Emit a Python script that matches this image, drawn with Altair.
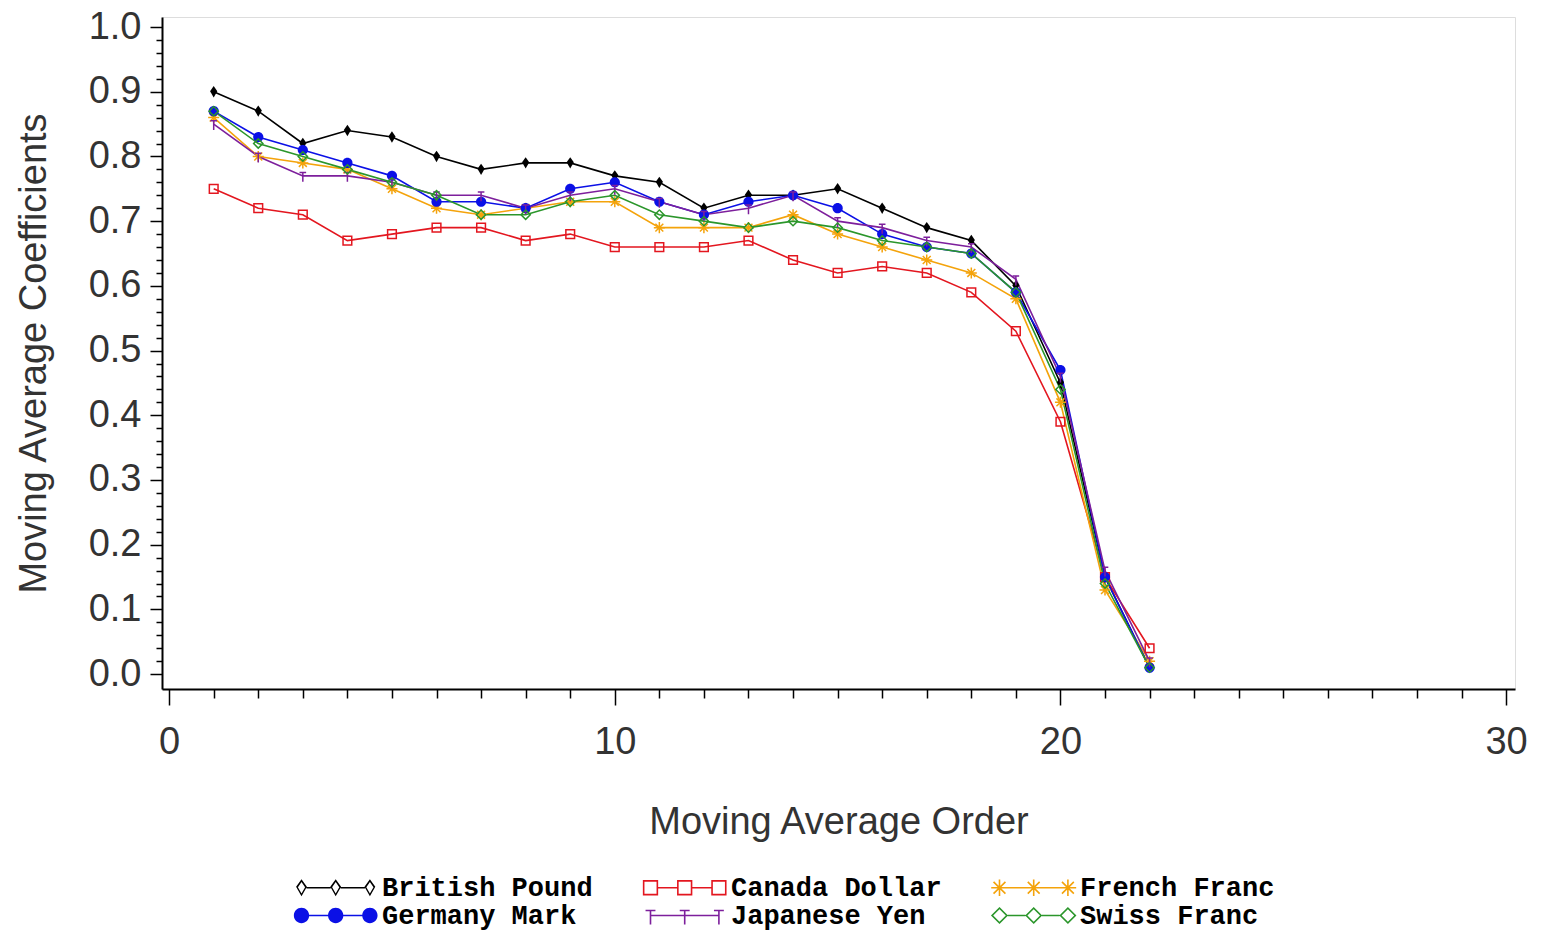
import math
import altair as alt
import pandas as pd

# ---------------- data ----------------
orders = list(range(1, 23))
series_names = ["British Pound", "Canada Dollar", "French Franc",
                "Germany Mark", "Japanese Yen", "Swiss Franc"]

british_pound = [0.90, 0.87, 0.82, 0.84, 0.83, 0.80, 0.78, 0.79, 0.79, 0.77, 0.76,
                 0.72, 0.74, 0.74, 0.75, 0.72, 0.69, 0.67, 0.60, 0.45, 0.15, 0.01]
canada_dollar = [0.75, 0.72, 0.71, 0.67, 0.68, 0.69, 0.69, 0.67, 0.68, 0.66, 0.66,
                 0.66, 0.67, 0.64, 0.62, 0.63, 0.62, 0.59, 0.53, 0.39, 0.15, 0.04]
french_franc = [0.86, 0.80, 0.79, 0.78, 0.75, 0.72, 0.71, 0.72, 0.73, 0.73, 0.69,
                0.69, 0.69, 0.71, 0.68, 0.66, 0.64, 0.62, 0.58, 0.42, 0.13, 0.02]
germany_mark = [0.87, 0.83, 0.81, 0.79, 0.77, 0.73, 0.73, 0.72, 0.75, 0.76, 0.73,
                0.71, 0.73, 0.74, 0.72, 0.68, 0.66, 0.65, 0.59, 0.47, 0.15, 0.01]
japanese_yen = [0.85, 0.80, 0.77, 0.77, 0.76, 0.74, 0.74, 0.72, 0.74, 0.75, 0.73,
                0.71, 0.72, 0.74, 0.70, 0.69, 0.67, 0.66, 0.61, 0.46, 0.16, 0.02]
swiss_franc = [0.87, 0.82, 0.80, 0.78, 0.76, 0.74, 0.71, 0.71, 0.73, 0.74, 0.71,
               0.70, 0.69, 0.70, 0.69, 0.67, 0.66, 0.65, 0.59, 0.44, 0.14, 0.01]

series_values = [british_pound, canada_dollar, french_franc,
                 germany_mark, japanese_yen, swiss_franc]

series_colors = ["#000000", "#E3161F", "#F4A30B", "#0B10E6", "#7D1F9C", "#2B962B"]
series_markers = ["heart", "square", "star", "circle", "tee", "diamond"]

x_major_ticks = [0, 10, 20, 30]
x_minor_ticks = [v for v in range(0, 31) if v % 10]
y_major_ticks = [0.0, 0.1, 0.2, 0.3, 0.4, 0.5, 0.6, 0.7, 0.8, 0.9, 1.0]
y_minor_ticks = [round(i * 0.02, 2) for i in range(51) if i % 5]

rows = []
for name, vals in zip(series_names, series_values):
    for o, v in zip(orders, vals):
        rows.append({"series": name, "order": o, "coef": v})
df = pd.DataFrame(rows)


# ---------------- marker paths (style only) ----------------
def _area(pts):
    s = 0.0
    for i in range(len(pts)):
        x0, y0 = pts[i]
        x1, y1 = pts[(i + 1) % len(pts)]
        s += x0 * y1 - x1 * y0
    return s / 2


def _poly(pts, cw=True):
    if (_area(pts) > 0) != cw:
        pts = pts[::-1]
    return "M" + " L".join(f"{x:.3f},{y:.3f}" for x, y in pts) + " Z"


def _bar(x0, y0, x1, y1, hw):
    dx, dy = x1 - x0, y1 - y0
    L = math.hypot(dx, dy) or 1.0
    nx, ny = -dy / L * hw, dx / L * hw
    pts = [(x0 + nx, y0 + ny), (x1 + nx, y1 + ny), (x1 - nx, y1 - ny), (x0 - nx, y0 - ny)]
    return _poly(pts, True)


def _circle(cx, cy, r):
    return (f"M{cx - r:.3f},{cy:.3f} A{r:.3f},{r:.3f} 0 1,1 {cx + r:.3f},{cy:.3f} "
            f"A{r:.3f},{r:.3f} 0 1,1 {cx - r:.3f},{cy:.3f} Z")


def _ring(outer, k, cx, cy):
    inner = [(cx + k * (x - cx), cy + k * (y - cy)) for x, y in outer]
    return _poly(outer, True) + " " + _poly(inner, False)


def marker(kind, cx, t, hollow_heart):
    hw = t / 2
    if kind == "circle":
        return _circle(cx, 0, 0.85)
    if kind == "square":
        s = 0.85
        outer = [(cx - s, -s), (cx + s, -s), (cx + s, s), (cx - s, s)]
        return _ring(outer, (s - t) / s, cx, 0)
    if kind == "diamond":
        s = 0.95
        outer = [(cx, -s), (cx + s, 0), (cx, s), (cx - s, 0)]
        return _ring(outer, (s - t * 1.414) / s, cx, 0)
    if kind == "heart":
        outer = [(cx, -0.95), (cx + 0.6, -0.1), (cx, 0.95), (cx - 0.6, -0.1)]
        if hollow_heart:
            return _ring(outer, 1 - t * 1.9, cx, 0)
        return _poly(outer, True)
    if kind == "tee":
        return (_bar(cx, -0.55, cx, 1.0, hw) + " " +
                _bar(cx - 0.55, -0.55, cx + 0.55, -0.55, hw))
    if kind == "star":
        d = 0.66
        return " ".join([
            _bar(cx - 0.92, 0, cx + 0.92, 0, hw),
            _bar(cx, -0.92, cx, 0.92, hw),
            _bar(cx - d, -d, cx + d, d, hw),
            _bar(cx - d, d, cx + d, -d, hw),
        ])
    return ""


GAP = {"circle": 0.8, "square": 0.85, "diamond": 0.92, "heart": 0.55, "tee": 0.0, "star": 0.0}


def legend_symbol(kind):
    t = 1.6 / 9.0
    centers = [0.0, 3.8, 7.6]
    parts = [marker(kind, c, t, True) for c in centers]
    e = GAP[kind]
    for a, b in zip(centers[:-1], centers[1:]):
        parts.append(_bar(a + e, 0, b - e, 0, t / 2))
    return " ".join(parts)


plot_paths = [marker(k, 0.0, 1.5 / 6.0, False) for k in series_markers]
legend_paths = [legend_symbol(k) for k in series_markers]

# ---------------- chart ----------------
FONT = "Liberation Sans"
TXT = "#333333"

x_scale = alt.Scale(domain=[-0.16, 30.2], nice=False, zero=False)
y_scale = alt.Scale(domain=[-0.023, 1.0155], nice=False, zero=False)

x_major_axis = alt.Axis(orient="bottom", values=x_major_ticks, format="d", title="Moving Average Order",
                        tickSize=16, tickWidth=1.5, tickColor="black",
                        domain=True, domainColor="black", domainWidth=2,
                        labelFont=FONT, labelFontSize=38, labelColor=TXT, labelPadding=18,
                        labelFlush=False, labelOverlap=False,
                        titleFont=FONT, titleFontSize=38, titleFontWeight="normal",
                        titleColor=TXT, titlePadding=42, grid=False)
x_minor_axis = alt.Axis(orient="bottom", values=x_minor_ticks, labels=False, domain=False, title=None,
                        tickSize=9, tickWidth=1.5, tickColor="black", grid=False)
y_major_axis = alt.Axis(orient="left", values=y_major_ticks, format=".1f", title="Moving Average Coefficients",
                        tickSize=12, tickWidth=1.5, tickColor="black",
                        domain=True, domainColor="black", domainWidth=2,
                        labelFont=FONT, labelFontSize=38, labelColor=TXT, labelPadding=9,
                        labelFlush=False, labelOverlap=False,
                        titleFont=FONT, titleFontSize=38, titleFontWeight="normal",
                        titleColor=TXT, titlePadding=35, grid=False)
y_minor_axis = alt.Axis(orient="left", values=y_minor_ticks, labels=False, domain=False, title=None,
                        tickSize=6, tickWidth=1.5, tickColor="black", grid=False)

color_scale = alt.Scale(domain=series_names, range=series_colors)

base = alt.Chart(df)

lines = base.mark_line(strokeWidth=1.6).encode(
    x=alt.X("order:Q", scale=x_scale, axis=x_major_axis),
    y=alt.Y("coef:Q", scale=y_scale, axis=y_major_axis),
    color=alt.Color("series:N", scale=color_scale, legend=None),
)

points = base.mark_point(filled=True, size=144, opacity=1, strokeWidth=0).encode(
    x=alt.X("order:Q", scale=x_scale, axis=x_minor_axis),
    y=alt.Y("coef:Q", scale=y_scale, axis=y_minor_axis),
    color=alt.Color("series:N", scale=color_scale, legend=None),
    shape=alt.Shape("series:N", scale=alt.Scale(domain=series_names, range=plot_paths), legend=None),
)

leg = alt.Legend(title=None, orient="none", direction="horizontal", legendX=126, legendY=857,
                 columns=3, columnPadding=44, rowPadding=0, symbolSize=324, symbolStrokeWidth=0,
                 symbolOpacity=1, labelFont="Liberation Mono", labelFontSize=27,
                 labelFontWeight="bold", labelColor="black", labelOffset=67, labelLimit=500,
                 padding=0)

legend_layer = base.transform_filter("datum.order > 1000").mark_point(
    filled=True, size=324, opacity=1, strokeWidth=0).encode(
    x=alt.X("order:Q", scale=x_scale, axis=None),
    y=alt.Y("coef:Q", scale=y_scale, axis=None),
    color=alt.Color("series:N", scale=color_scale, legend=leg),
    shape=alt.Shape("series:N", scale=alt.Scale(domain=series_names, range=legend_paths), legend=leg),
)

chart = alt.layer(lines, points, legend_layer).resolve_scale(
    color="independent", shape="independent"
).resolve_axis(
    x="independent", y="independent"
).properties(
    width=1353, height=672,
    autosize=alt.AutoSizeParams(type="none"),
    padding={"left": 154, "top": 9, "right": 20, "bottom": 241},
).configure_view(
    stroke="black", strokeWidth=2
).configure(
    font=FONT
)

chart.save("out.html", embed_options={"renderer": "svg", "actions": False})
